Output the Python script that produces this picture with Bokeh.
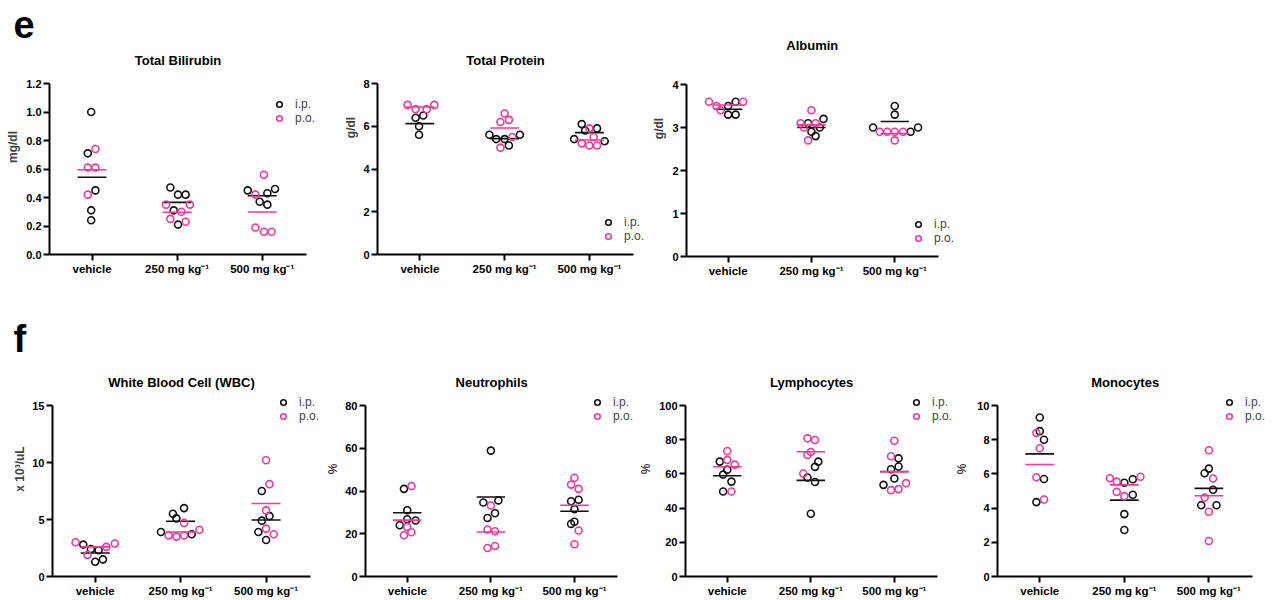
import numpy as np
from bokeh.plotting import figure
from bokeh.models import Range1d, FixedTicker, Legend, LegendItem, Label, ColumnDataSource
from bokeh.layouts import row, column
from bokeh.embed import file_html
from bokeh.resources import INLINE

# ---------------- data ----------------
groups = ["vehicle", "250 mg kg\u207b\u00b9", "500 mg kg\u207b\u00b9"]
series_names = ["i.p.", "p.o."]
panel_letters = {0: "e", 3: "f"}

# Total Bilirubin (mg/dl)
bili_ip = [[1.00, 0.71, 0.45, 0.31, 0.24], [0.47, 0.42, 0.42, 0.31, 0.21], [0.45, 0.43, 0.46, 0.37, 0.35]]
bili_ip_jit = [[-0.01, -0.05, 0.04, -0.01, -0.01], [-0.08, 0.01, 0.10, -0.04, 0.01], [-0.17, 0.06, 0.15, -0.03, 0.06]]
bili_po = [[0.74, 0.61, 0.61, 0.42], [0.35, 0.35, 0.30, 0.25, 0.23], [0.56, 0.42, 0.19, 0.16, 0.16]]
bili_po_jit = [[0.04, -0.05, 0.04, -0.05], [-0.13, 0.15, 0.05, -0.08, 0.10], [0.02, -0.08, -0.08, 0.02, 0.11]]

# Total Protein (g/dl)
prot_ip = [[6.5, 6.4, 6.0, 5.6], [5.6, 5.6, 5.4, 5.4, 5.1], [6.1, 5.9, 5.8, 5.4, 5.3]]
prot_ip_jit = [[0.04, -0.05, -0.01, -0.01], [-0.18, 0.18, -0.10, 0.0, 0.05], [-0.09, 0.09, -0.05, -0.18, 0.18]]
prot_po = [[7.0, 7.0, 6.8, 6.8], [6.6, 6.3, 6.2, 5.5, 5.0], [5.9, 5.5, 5.2, 5.1, 5.1]]
prot_po_jit = [[-0.145, 0.17, -0.05, 0.08], [0.0, 0.05, -0.05, 0.09, -0.05], [0.0, 0.05, -0.09, 0.0, 0.09]]

# Albumin (g/dl)
alb_ip = [[3.6, 3.5, 3.3, 3.3], [3.2, 3.1, 3.0, 2.9, 2.8], [3.5, 3.3, 3.0, 3.0, 2.9]]
alb_ip_jit = [[0.09, 0.0, 0.0, 0.09], [0.145, -0.04, 0.10, 0.0, 0.05], [0.0, 0.0, -0.26, 0.28, 0.19]]
alb_po = [[3.6, 3.6, 3.5, 3.4], [3.4, 3.1, 3.1, 3.0, 2.7], [2.9, 2.9, 2.9, 2.9, 2.7]]
alb_po_jit = [[-0.23, 0.18, -0.14, -0.09], [0.0, -0.13, 0.05, -0.09, -0.04], [-0.18, -0.09, 0.0, 0.10, 0.0]]

# White Blood Cell (x 10^3/uL)
wbc_ip = [[2.8, 2.4, 2.3, 1.5, 1.3], [6.0, 5.5, 5.1, 3.9, 3.7], [7.5, 5.3, 4.9, 3.9, 3.2]]
wbc_ip_jit = [[-0.14, -0.05, 0.04, 0.09, 0.0], [0.04, -0.09, -0.05, -0.23, 0.13], [-0.05, 0.04, -0.05, -0.09, 0.0]]
wbc_po = [[3.0, 2.9, 2.6, 1.9], [4.7, 4.1, 3.6, 3.5, 3.6], [10.2, 8.1, 5.8, 4.2, 3.7]]
wbc_po_jit = [[-0.23, 0.23, 0.13, -0.09], [0.04, 0.22, -0.14, -0.05, 0.04], [0.0, 0.04, 0.0, 0.0, 0.09]]

# Neutrophils (%)
neu_ip = [[41.0, 31.0, 26.8, 26.2, 24.0], [58.9, 35.6, 34.6, 29.6, 27.4], [35.2, 35.9, 31.5, 25.6, 24.6]]
neu_ip_jit = [[-0.04, 0.0, 0.0, 0.10, -0.09], [0.0, 0.09, -0.09, 0.05, -0.04], [-0.04, 0.05, 0.0, 0.0, -0.04]]
neu_po = [[42.3, 23.2, 20.7, 19.3], [33.2, 22.0, 21.2, 14.3, 13.3], [46.2, 43.0, 41.0, 21.5, 15.1]]
neu_po_jit = [[0.05, 0.0, 0.05, -0.04], [0.0, -0.04, 0.05, 0.05, -0.04], [0.0, -0.04, 0.05, 0.05, 0.0]]

# Lymphocytes (%)
lym_ip = [[67.2, 62.5, 59.6, 55.5, 49.7], [67.2, 64.1, 57.9, 55.3, 36.7], [69.1, 64.3, 62.7, 57.3, 53.6]]
lym_ip_jit = [[-0.09, 0.0, -0.05, 0.05, -0.05], [0.09, 0.05, -0.04, 0.05, 0.0], [0.05, 0.05, -0.04, 0.0, -0.13]]
lym_po = [[73.4, 68.2, 65.4, 49.7], [80.8, 79.8, 72.8, 71.1, 60.2], [79.4, 70.3, 54.6, 50.5, 51.1]]
lym_po_jit = [[0.0, 0.0, 0.09, 0.05], [-0.04, 0.05, 0.0, -0.04, -0.09], [0.0, -0.04, 0.14, -0.04, 0.05]]

# Monocytes (%)
mono_ip = [[9.3, 8.5, 8.0, 5.7, 4.35], [5.69, 5.48, 4.78, 3.65, 2.72], [6.31, 6.04, 5.07, 4.17, 4.17]]
mono_ip_jit = [[0.0, 0.0, 0.05, 0.05, -0.04], [0.10, 0.0, 0.10, 0.0, 0.0], [0.0, -0.05, 0.05, -0.09, 0.09]]
mono_po = [[8.4, 7.5, 5.8, 4.5], [5.75, 5.83, 5.55, 4.95, 4.7], [7.38, 5.73, 4.62, 3.79, 2.08]]
mono_po_jit = [[-0.04, 0.0, -0.04, 0.05], [-0.17, 0.19, -0.09, -0.09, 0.0], [0.0, 0.05, -0.05, 0.0, 0.0]]

titles = ["Total Bilirubin", "Total Protein", "Albumin",
          "White Blood Cell (WBC)", "Neutrophils", "Lymphocytes", "Monocytes"]
ylabels = ["mg/dl", "g/dl", "g/dl", "x 10\u00b3/uL", "%", "%", "%"]
ymax = [1.2, 8, 4, 15, 80, 100, 10]
ytick_vals = [[0, 0.2, 0.4, 0.6, 0.8, 1.0, 1.2], [0, 2, 4, 6, 8], [0, 1, 2, 3, 4],
              [0, 5, 10, 15], [0, 20, 40, 60, 80], [0, 20, 40, 60, 80, 100], [0, 2, 4, 6, 8, 10]]
ytick_fmt = ["{:.1f}", "{:g}", "{:g}", "{:g}", "{:g}", "{:g}", "{:g}"]

datasets = [
    (bili_ip, bili_ip_jit, bili_po, bili_po_jit),
    (prot_ip, prot_ip_jit, prot_po, prot_po_jit),
    (alb_ip, alb_ip_jit, alb_po, alb_po_jit),
    (wbc_ip, wbc_ip_jit, wbc_po, wbc_po_jit),
    (neu_ip, neu_ip_jit, neu_po, neu_po_jit),
    (lym_ip, lym_ip_jit, lym_po, lym_po_jit),
    (mono_ip, mono_ip_jit, mono_po, mono_po_jit),
]

# ---------------- style / layout ----------------
FONT = "Liberation Sans"
BLACK = "#111111"
PINK = "#F2389A"
colors = [BLACK, PINK]
X0, X1 = -0.5, 2.52          # visible extent of the category axis

# page geometry (px): fig_left, fig_right, axis_left, axis_right, axis_top, axis_bottom,
#   fig_top, frame_top, fig_bottom, title_y, legend marker (x, y), y-label standoff
geom = [
    (0, 340, 49, 306, 83, 254, 0, 39, 300, 60, (279, 104), 3),
    (340, 649, 377, 633, 83, 254, 0, 0, 300, 60, (608, 222), 2),
    (649, 960, 679, 937, 84, 256, 0, 0, 300, 45, (911, 224), 3),
    (0, 323, 52, 310, 405, 576, 300, 361, 600, 382, (283, 402), 2),
    (323, 636, 359, 617, 405, 576, 300, 361, 600, 382, (591, 402), 2),
    (636, 952, 679, 937, 405, 576, 300, 361, 600, 382, (910, 402), 3),
    (952, 1272, 992, 1252, 405, 576, 300, 361, 600, 382, (1224, 402), 5),
]


def style_axis(ax):
    ax.axis_line_width = 2
    ax.axis_line_color = "black"
    ax.major_tick_line_width = 2
    ax.major_tick_line_color = "black"
    ax.major_tick_out = 6
    ax.major_tick_in = 0
    ax.minor_tick_line_color = None
    ax.major_label_text_font = FONT
    ax.major_label_text_font_style = "bold"
    ax.major_label_text_color = "black"
    ax.major_label_standoff = 2


def make_panel(i):
    fl, fr, al, ar, at, ab, ft, rt, fb, ty, (lmx, lmy), ylstand = geom[i]
    frame_right = fr - 1
    ppx = (ar - al) / (X1 - X0)
    ppy = (ab - at) / ymax[i]
    x_end = X1 + (frame_right - ar) / ppx
    y_end = ymax[i] + (at - rt) / ppy

    p = figure(width=fr - fl, height=fb - ft, output_backend="svg", toolbar_location=None,
               x_range=Range1d(X0, x_end), y_range=Range1d(0, y_end),
               min_border_left=al - fl, min_border_right=fr - frame_right,
               min_border_top=rt - ft, min_border_bottom=fb - ab)
    p.outline_line_color = None
    p.grid.visible = False
    p.background_fill_color = "white"
    p.border_fill_color = "white"

    # panel letter (e / f) as the figure title, pulled left over the y axis
    if i in panel_letters:
        p.title.text = panel_letters[i]
        p.title.align = "left"
        p.title.vertical_align = "top"
        p.title.offset = 13 - al
        p.title.standoff = 0
        p.title.text_font = FONT
        p.title.text_font_size = "38px"
        p.title.text_font_style = "bold"
        p.title.text_color = "black"

    xa, ya = p.xaxis[0], p.yaxis[0]
    style_axis(xa)
    style_axis(ya)
    xa.bounds = (X0, X1)
    ya.bounds = (0, ymax[i])
    xa.major_label_text_font_size = "11.5px"
    ya.major_label_text_font_size = "11px"
    xa.ticker = FixedTicker(ticks=[0, 1, 2])
    xa.major_label_overrides = {k: groups[k] for k in range(3)}
    ya.ticker = FixedTicker(ticks=ytick_vals[i])
    ya.major_label_overrides = {t: ytick_fmt[i].format(t) for t in ytick_vals[i]}
    ya.axis_label = ylabels[i]
    ya.axis_label_text_font = FONT
    ya.axis_label_text_font_style = "bold"
    ya.axis_label_text_font_size = "12px"
    ya.axis_label_standoff = ylstand

    # chart title, centred over the visible axis
    p.add_layout(Label(x=(X0 + X1) / 2, y=(ab - ty) / ppy, text=titles[i],
                       text_align="center", text_baseline="middle",
                       text_font=FONT, text_font_size="13px", text_font_style="bold",
                       text_color="black"))

    ip_v, ip_j, po_v, po_j = datasets[i]
    renderers = []
    for s, (vals, jit) in enumerate([(ip_v, ip_j), (po_v, po_j)]):
        xs, ys = [], []
        mx0, mx1, my = [], [], []
        for g in range(3):
            xs += [g + o for o in jit[g]]
            ys += list(vals[g])
            mx0.append(g - 0.17)
            mx1.append(g + 0.17)
            my.append(float(np.mean(vals[g])))
        src = ColumnDataSource(dict(x=xs, y=ys))
        r = p.scatter("x", "y", source=src, marker="circle", size=7,
                      fill_color=None, line_color=colors[s], line_width=1.6)
        renderers.append(r)
        p.segment(x0=mx0, x1=mx1, y0=my, y1=my, line_color=colors[s], line_width=1.6)

    legend = Legend(items=[LegendItem(label=series_names[k], renderers=[renderers[k]]) for k in range(2)],
                    location=(lmx - 7 - al, ab - (lmy - 7) - 28), orientation="vertical")
    legend.background_fill_alpha = 0
    legend.border_line_alpha = 0
    legend.padding = 0
    legend.margin = 0
    legend.spacing = 0
    legend.glyph_width = 14
    legend.glyph_height = 14
    legend.label_height = 14
    legend.label_standoff = 9
    legend.label_text_font = FONT
    legend.label_text_font_size = "12px"
    legend.label_text_color = "#444444"
    legend.label_text_baseline = "middle"
    p.add_layout(legend, "center")
    return p


panels = [make_panel(i) for i in range(7)]
# each figure wrapped on its own so that frames are not aligned across a row
layout = column(row(*[column(p) for p in panels[:3]]),
                row(*[column(p) for p in panels[3:]]))

open("out.html", "w").write(file_html(layout, INLINE))
